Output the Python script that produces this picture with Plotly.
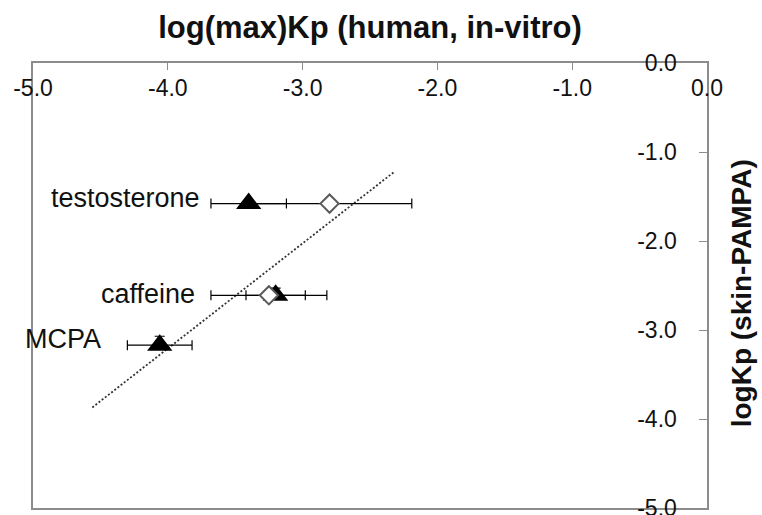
import plotly.graph_objects as go

# Compounds and their skin-PAMPA permeability (log Kp)
compounds = ["testosterone", "caffeine", "MCPA"]
pampa_logkp = [-1.58, -2.61, -3.17]
pampa_err = [0.0, 0.08, 0.10]

# Human in-vitro log(max)Kp, two literature sets
invitro_set1 = [-3.40, -3.20, -4.06]
invitro_set1_err = [0.28, 0.22, 0.24]
invitro_set2 = [-2.80, -3.25, None]
invitro_set2_err = [0.61, 0.43, 0]

# Linear trend line end points (x, y)
trend_x = [-4.56, -2.315]
trend_y = [-3.87, -1.217]

# Axis ticks (shared by both axes)
tick_values = [-5, -4, -3, -2, -1, 0]
tick_labels = ["-5.0", "-4.0", "-3.0", "-2.0", "-1.0", "0.0"]

# Compound name label anchors (right edge, vertical centre)
label_x = [-3.75, -3.78, -4.48]
label_y = [-1.515, -2.60, -3.10]

AXIS_GREY = "#8c8c8c"
FONT = "Liberation Sans, Arial, sans-serif"

fig = go.Figure()

fig.add_trace(go.Scatter(
    x=trend_x, y=trend_y, mode="lines",
    line=dict(color="#333333", width=1.8, dash="2px,2px"),
    hoverinfo="skip", showlegend=False,
))

fig.add_trace(go.Scatter(
    x=invitro_set1, y=pampa_logkp, mode="markers",
    marker=dict(symbol="triangle-up", size=22, color="black"),
    error_x=dict(type="data", array=invitro_set1_err, color="black",
                 thickness=1.2, width=5),
    error_y=dict(type="data", symmetric=False, array=pampa_err,
                 arrayminus=[0] * len(pampa_err), color="black",
                 thickness=1.2, width=5),
    showlegend=False,
))

fig.add_trace(go.Scatter(
    x=invitro_set2, y=pampa_logkp, mode="markers",
    marker=dict(symbol="diamond", size=14, color="white",
                line=dict(color="#5a5a5a", width=2)),
    error_x=dict(type="data", array=invitro_set2_err,
                 color="black", thickness=1.2, width=5),
    showlegend=False,
))

for name, lx, ly in zip(compounds, label_x, label_y):
    fig.add_annotation(
        x=lx, y=ly, xref="x", yref="y", text=name, showarrow=False,
        xanchor="right", yanchor="middle",
        font=dict(family=FONT, size=27, color="#111111"),
    )

fig.update_layout(
    width=762, height=515,
    margin=dict(l=33, r=55, t=63, b=7, pad=0, autoexpand=False),
    paper_bgcolor="white", plot_bgcolor="white",
    font=dict(family=FONT, color="#111111"),
    xaxis=dict(
        range=[-5, 0], side="top", tickvals=tick_values, ticktext=tick_labels,
        ticks="inside", ticklen=7, tickcolor=AXIS_GREY, tickwidth=1.2,
        showline=True, linecolor=AXIS_GREY, linewidth=1.5, mirror=True,
        showgrid=False, zeroline=False, automargin=False,
        ticklabelposition="inside", ticklabeloverflow="allow",
        ticklabelstandoff=12,
        tickfont=dict(family=FONT, size=23, color="#111111"),
        title=dict(text="<b>log(max)Kp (human, in-vitro)</b>",
                   font=dict(family=FONT, size=31, color="#111111"),
                   standoff=27),
    ),
    yaxis=dict(
        range=[-5, 0], side="right", tickvals=tick_values, ticktext=tick_labels,
        ticks="inside", ticklen=8, tickcolor=AXIS_GREY, tickwidth=1.2,
        showline=True, linecolor=AXIS_GREY, linewidth=1.5, mirror=True,
        showgrid=False, zeroline=False, automargin=False,
        ticklabelposition="inside", ticklabeloverflow="allow",
        ticklabelstandoff=24,
        tickfont=dict(family=FONT, size=23, color="#111111"),
        title=dict(text="<b>logKp (skin-PAMPA)</b>&nbsp;&nbsp;",
                   font=dict(family=FONT, size=28, color="#111111"),
                   standoff=56),
    ),
)

fig.write_html("out.html")
